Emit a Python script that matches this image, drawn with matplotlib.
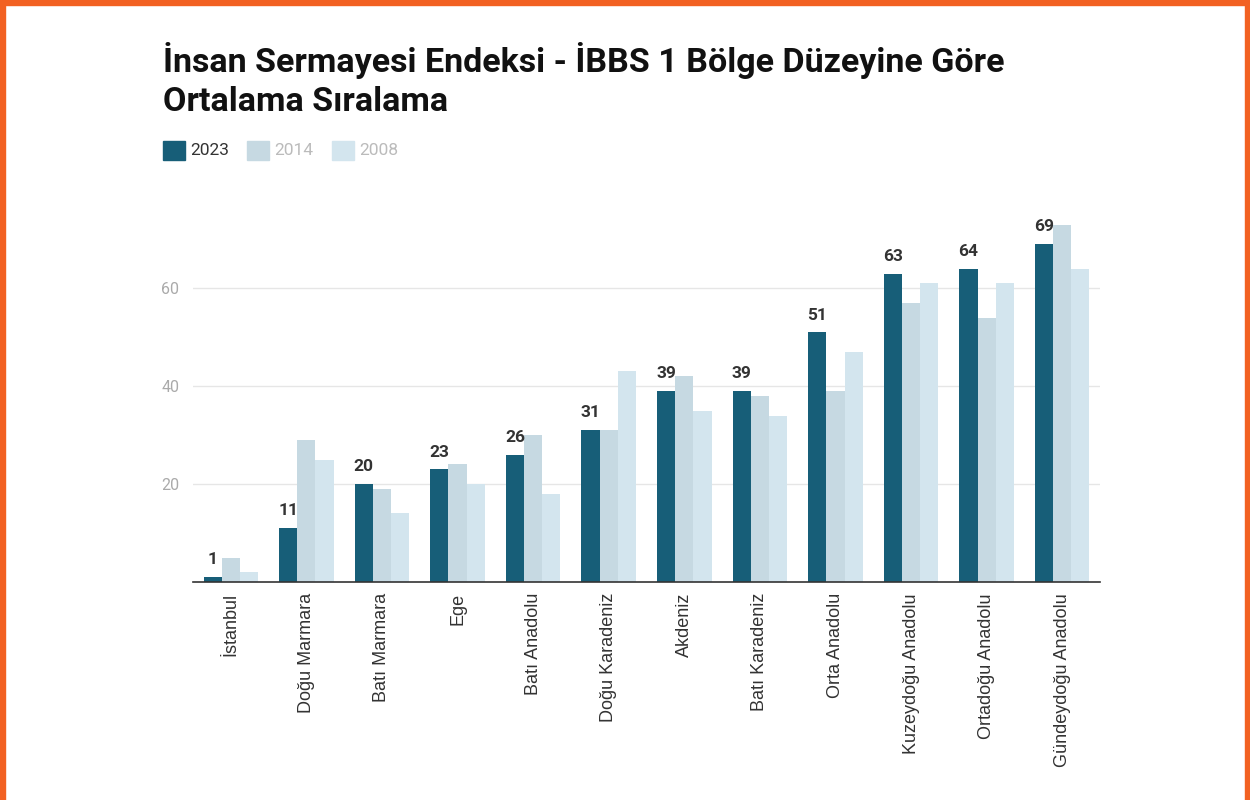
import matplotlib.pyplot as plt
import numpy as np
from matplotlib.patches import Rectangle

regions = ["İstanbul", "Doğu Marmara", "Batı Marmara", "Ege", "Batı Anadolu",
           "Doğu Karadeniz", "Akdeniz", "Batı Karadeniz", "Orta Anadolu",
           "Kuzeydoğu Anadolu", "Ortadoğu Anadolu", "Gündeydoğu Anadolu"]
rank_2023 = [1, 11, 20, 23, 26, 31, 39, 39, 51, 63, 64, 69]
rank_2014 = [5, 29, 19, 24, 30, 31, 42, 38, 39, 57, 54, 73]
rank_2008 = [2, 25, 14, 20, 18, 43, 35, 34, 47, 61, 61, 64]
years = ["2023", "2014", "2008"]

plt.rcParams['font.family'] = ['Roboto', 'DejaVu Sans']

c23 = "#175e78"
c14 = "#c6d9e2"
c08 = "#d3e5ee"

fig = plt.figure(figsize=(12.5, 8), dpi=100)
ax = fig.add_axes([0.1544, 0.2725, 0.7256, 0.459])

x = np.arange(len(regions))
w = 0.24
ax.bar(x - w, rank_2023, w, color=c23, zorder=3)
ax.bar(x, rank_2014, w, color=c14, zorder=3)
ax.bar(x + w, rank_2008, w, color=c08, zorder=3)

# value labels only for 2023
for xi, v in zip(x, rank_2023):
    ax.text(xi - w, v + 2.0, str(v), ha='center', va='bottom',
            fontsize=12.5, fontweight='bold', color='#333333')

ax.set_xlim(-0.5, len(regions) - 0.5)
ax.set_ylim(0, 75)
ax.set_yticks([20, 40, 60])
ax.set_xticks(x)
ax.set_xticklabels(regions, rotation=90, fontsize=13, color='#333333',
                   family=['Liberation Sans', 'DejaVu Sans'])
ax.tick_params(axis='y', length=0, pad=10, labelsize=11.5, labelcolor='#aaaaaa')
ax.tick_params(axis='x', length=0, pad=8)
ax.grid(axis='y', color='#e6e6e6', linewidth=1, zorder=0)
for s in ['top', 'right', 'left']:
    ax.spines[s].set_visible(False)
ax.spines['bottom'].set_color('#333333')
ax.spines['bottom'].set_linewidth(1.2)
ax.spines['bottom'].set_zorder(4)

fig.text(0.1304, 0.947, "İnsan Sermayesi Endeksi - İBBS 1 Bölge Düzeyine Göre\nOrtalama Sıralama",
         fontsize=24.5, fontweight='bold', color='#111111', va='top', ha='left',
         linespacing=1.28)

# legend
lx = [0.1304, 0.1976, 0.2656]
lcol = [c23, c14, c08]
tcol = ['#333333', '#bbbbbb', '#bbbbbb']
for px, col, tc, lab in zip(lx, lcol, tcol, years):
    fig.patches.append(Rectangle((px, 0.8), 0.0176, 0.0237, transform=fig.transFigure,
                                 color=col, figure=fig))
    fig.text(px + 0.022, 0.8118, lab, fontsize=12.5, color=tc, va='center', ha='left')

# orange frame (left, top, right)
fc = "#f26122"
fig.patches.append(Rectangle((0, 0), 0.004, 1, transform=fig.transFigure, color=fc, figure=fig))
fig.patches.append(Rectangle((0.996, 0), 0.004, 1, transform=fig.transFigure, color=fc, figure=fig))
fig.patches.append(Rectangle((0, 0.994), 1, 0.006, transform=fig.transFigure, color=fc, figure=fig))

plt.savefig("out.png", dpi=100)
plt.close()
